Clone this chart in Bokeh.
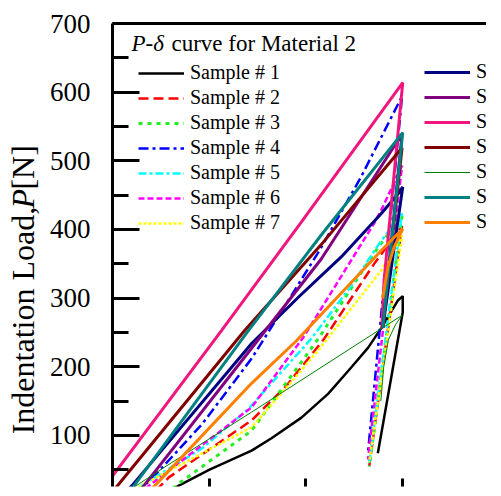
import math
from bokeh.plotting import figure
from bokeh.layouts import row
from bokeh.models import Range1d, LinearAxis, FixedTicker, Legend, LegendItem, Label
from bokeh.embed import file_html
from bokeh.resources import INLINE

# ---------------- data (depth in mm, load in N) ----------------
s1_x = [0.055, 0.0687, 0.100, 0.1441, 0.1647, 0.1958, 0.2236, 0.2473, 0.2649, 0.2783, 0.2959, 0.3007, 0.3007, 0.2749]
s1_y = [15, 27, 50, 78, 96, 126, 161, 199, 228, 256, 297, 303, 279, 74]
s2_x = [0.045, 0.0584, 0.1441, 0.180, 0.2194, 0.2711, 0.300, 0.266]
s2_y = [20, 39, 122, 172, 241, 350, 405, 55]
s3_x = [0.055, 0.0687, 0.1441, 0.2143, 0.2545, 0.2752, 0.300, 0.266]
s3_y = [15, 30, 107, 243, 330, 374, 420, 55]
s4_x = [0.025, 0.0512, 0.0925, 0.1441, 0.1823, 0.2143, 0.2577, 0.300, 0.2649]
s4_y = [15, 53, 116, 212, 297, 369, 477, 594, 78]
s5_x = [0.028, 0.0439, 0.0925, 0.141, 0.206, 0.2473, 0.2752, 0.300, 0.2655]
s5_y = [25, 39, 81, 139, 241, 318, 377, 425, 55]
s6_x = [0.027, 0.0408, 0.1441, 0.1978, 0.2711, 0.2801, 0.300, 0.2647]
s6_y = [15, 30, 141, 243, 409, 433, 493, 65]
s7_x = [0.027, 0.0336, 0.1441, 0.1781, 0.2132, 0.2473, 0.2783, 0.300, 0.2659]
s7_y = [25, 30, 112, 166, 224, 285, 340, 391, 61]
s8_x = [0.015, 0.0202, 0.1441, 0.1923, 0.2370, 0.2783, 0.2959, 0.3007, 0.280]
s8_y = [20, 27, 234, 301, 360, 423, 452, 462, 257]
s9_x = [0.027, 0.0326, 0.1441, 0.2163, 0.2959, 0.2995, 0.280]
s9_y = [17, 27, 227, 357, 530, 532, 257]
s10_x = [-0.01, 0.1131, 0.1958, 0.3007, 0.2814, 0.279]
s10_y = [22, 253, 411, 614, 326, 255]
s11_x = [0.0, 0.0064, 0.1369, 0.2163, 0.300, 0.280]
s11_y = [18, 29, 253, 378, 519, 257]
s12_x = [0.015, 0.0563, 0.1441, 0.300, 0.2935, 0.286, 0.281, 0.278]
s12_y = [18, 56, 134, 275, 262, 240, 200, 150]
s13_x = [0.015, 0.0224, 0.141, 0.2163, 0.3007, 0.280]
s13_y = [15, 27, 253, 392, 541, 257]
s14_x = [0.035, 0.0439, 0.1441, 0.1906, 0.2783, 0.3007, 0.2917, 0.2853, 0.280]
s14_y = [15, 27, 176, 238, 369, 401, 374, 345, 300]

labels = ["Sample # %d" % i for i in range(1, 15)]
colors = ["#000000", "#FF0000", "#22EE22", "#0000FF", "#00FFFF", "#FF00FF", "#FFFF00",
          "#000080", "#800080", "#F0167E", "#800000", "#008000", "#008080", "#FF8000"]
dashes = ["solid", "10 5", "4 5", "10 4 3 4", "8 3 3 3", "6 3", "3 2",
          "solid", "solid", "solid", "solid", "solid", "solid", "solid"]
widths = [2.5, 2.5, 3, 2.5, 2.5, 2.5, 2.5, 3, 3, 3, 3, 1, 3, 3]

xs = [s1_x, s2_x, s3_x, s4_x, s5_x, s6_x, s7_x, s8_x, s9_x, s10_x, s11_x, s12_x, s13_x, s14_x]
ys = [s1_y, s2_y, s3_y, s4_y, s5_y, s6_y, s7_y, s8_y, s9_y, s10_y, s11_y, s12_y, s13_y, s14_y]

y_major = [100, 200, 300, 400, 500, 600, 700]
y_minor = [50, 150, 250, 350, 450, 550, 650]
x_major = [0.1, 0.2, 0.3]

FONT = "Liberation Serif"
H = 488
STRIP = 46

# ---------- narrow strip that carries the y-axis title ----------
t = figure(width=STRIP, height=H, output_backend="svg", toolbar_location=None,
           x_range=Range1d(0, STRIP), y_range=Range1d(0, H),
           x_axis_location=None, y_axis_location=None,
           min_border_left=0, min_border_right=0, min_border_top=0, min_border_bottom=0)
t.outline_line_color = None
t.xgrid.visible = False
t.ygrid.visible = False

fs = "32px"
ax_x = 22
for txt, ypos, style in [("Indentation Load,", 55, "normal"), ("P", 293, "italic"), ("[N]", 313, "normal")]:
    t.add_layout(Label(x=ax_x, y=ypos, text=txt, text_font=FONT, text_font_style=style,
                       text_font_size=fs, angle=math.pi / 2, text_baseline="middle",
                       text_align="left", text_color="black"))

# ---------- main chart ----------
p = figure(width=486 - STRIP, height=H, output_backend="svg", toolbar_location=None,
           x_range=Range1d(0, 0.3875), y_range=Range1d(25.7, 700),
           min_border_left=111 - STRIP, min_border_right=0, min_border_top=23, min_border_bottom=2)
p.outline_line_color = None
p.xgrid.visible = False
p.ygrid.visible = False

renderers = []
for x, y, c, d, w in zip(xs, ys, colors, dashes, widths):
    renderers.append(p.line(x, y, line_color=c, line_dash=d, line_width=w))

ya = p.yaxis[0]
ya.ticker = FixedTicker(ticks=y_major, minor_ticks=y_minor)
ya.axis_line_width = 3
ya.major_tick_in = 27
ya.major_tick_out = 0
ya.minor_tick_in = 16
ya.minor_tick_out = 0
ya.major_tick_line_width = 3
ya.minor_tick_line_width = 3
ya.major_label_standoff = 22
ya.major_label_text_font = FONT
ya.major_label_text_font_size = "27px"
ya.major_label_text_color = "black"

xa = p.xaxis[0]
xa.ticker = FixedTicker(ticks=x_major, minor_ticks=[])
xa.axis_line_alpha = 0
xa.major_tick_in = 8
xa.major_tick_out = 0
xa.major_tick_line_width = 3
xa.major_label_overrides = {0.1: "", 0.2: "", 0.3: ""}
xa.major_label_text_font_size = "0px"
xa.major_label_standoff = 0

top = LinearAxis(ticker=FixedTicker(ticks=[], minor_ticks=[]), axis_line_width=3,
                 major_label_text_font_size="0px", major_tick_in=0, major_tick_out=0,
                 minor_tick_in=0, minor_tick_out=0, major_label_standoff=0)
p.add_layout(top, "above")

def make_legend(items, loc):
    return Legend(items=items, location=loc, orientation="vertical",
                  glyph_width=46, glyph_height=20, label_height=20,
                  label_standoff=6, spacing=2, padding=0, margin=0,
                  border_line_alpha=0, background_fill_alpha=0,
                  label_text_font=FONT, label_text_font_size="20px",
                  label_text_color="black")

items1 = [LegendItem(label=labels[i], renderers=[renderers[i]]) for i in range(7)]
items2 = [LegendItem(label=labels[i], renderers=[renderers[i]]) for i in range(7, 14)]
p.add_layout(make_legend(items1, (26, 252)))
p.add_layout(make_legend(items2, (312, 253)))

p.add_layout(Label(x=19, y=443, x_units="screen", y_units="screen", text="P-δ",
                   text_font=FONT, text_font_style="italic", text_font_size="23px",
                   text_baseline="middle", text_align="left", text_color="black"))
p.add_layout(Label(x=59, y=443, x_units="screen", y_units="screen", text="curve for Material 2",
                   text_font=FONT, text_font_size="23px",
                   text_baseline="middle", text_align="left", text_color="black"))

layout = row(t, p, spacing=0)
open("out.html", "w").write(file_html(layout, INLINE))
